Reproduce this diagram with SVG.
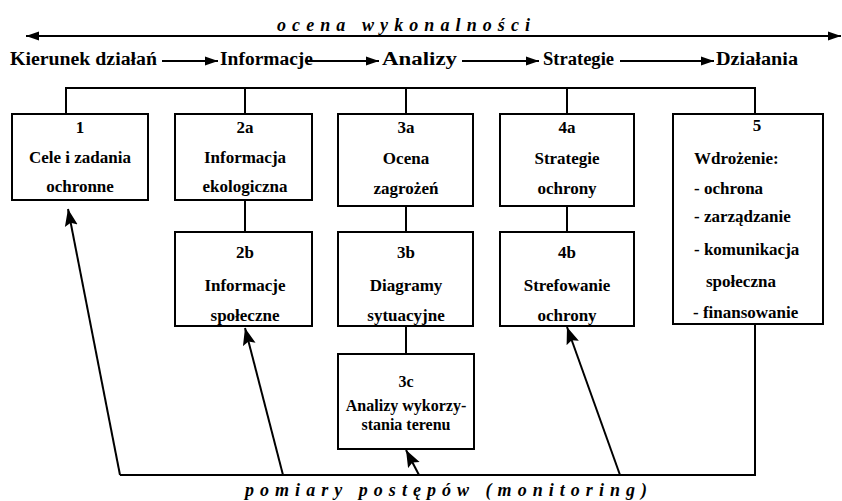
<svg xmlns="http://www.w3.org/2000/svg" width="842" height="501" viewBox="0 0 842 501" font-family="Liberation Serif, serif">
<defs>
<marker id="ah" markerUnits="userSpaceOnUse" markerWidth="14" markerHeight="10" refX="13" refY="5" orient="auto">
<path d="M0,0.5 L13,5 L0,9.5 z" fill="#000"/>
</marker>
<marker id="ahs" markerUnits="userSpaceOnUse" markerWidth="14" markerHeight="10" refX="0" refY="5" orient="auto">
<path d="M13,0.5 L0,5 L13,9.5 z" fill="#000"/>
</marker>
<marker id="ahb" markerUnits="userSpaceOnUse" markerWidth="18" markerHeight="14" refX="17" refY="7" orient="auto">
<path d="M0,0.5 L17,7 L0,13.5 L3,7 z" fill="#000"/>
</marker>
</defs>
<style>
text{font-family:'Liberation Serif',serif;fill:#000;font-weight:bold}
.hd{font-size:18px}
.it{font-size:18px;font-style:italic}
.bx{font-size:17px;text-anchor:middle}
.bl{font-size:17px}
.sm{font-size:16px;text-anchor:middle}
rect{fill:#fff;stroke:#000;stroke-width:2}
.ln{fill:none;stroke:#000;stroke-width:2}
</style>

<g id="header">
<text class="it" x="277" y="31" textLength="253">ocena wykonalności</text>
<text class="hd" x="10" y="65" textLength="147" lengthAdjust="spacingAndGlyphs">Kierunek działań</text>
<text class="hd" x="220" y="65" textLength="93" lengthAdjust="spacingAndGlyphs">Informacje</text>
<text class="hd" x="382" y="65" textLength="75" lengthAdjust="spacingAndGlyphs">Analizy</text>
<text class="hd" x="543" y="65" textLength="71" lengthAdjust="spacingAndGlyphs">Strategie</text>
<text class="hd" x="716" y="65" textLength="82" lengthAdjust="spacingAndGlyphs">Działania</text>
</g>

<g id="connectors">
<line class="ln" x1="26" y1="36" x2="841" y2="36" marker-start="url(#ahs)" marker-end="url(#ah)"/>
<line class="ln" x1="162" y1="61" x2="218" y2="61" marker-end="url(#ah)"/>
<line class="ln" x1="305" y1="61" x2="379" y2="61" marker-end="url(#ah)"/>
<line class="ln" x1="462" y1="61" x2="539" y2="61" marker-end="url(#ah)"/>
<line class="ln" x1="620" y1="61" x2="714" y2="61" marker-end="url(#ah)"/>
<polyline class="ln" points="66,114 66,88 755,88 755,114"/>
<line class="ln" x1="245" y1="88" x2="245" y2="114"/>
<line class="ln" x1="406" y1="88" x2="406" y2="114"/>
<line class="ln" x1="567" y1="88" x2="567" y2="114"/>
<line class="ln" x1="245" y1="200" x2="245" y2="232"/>
<line class="ln" x1="406" y1="206" x2="406" y2="232"/>
<line class="ln" x1="567" y1="206" x2="567" y2="232"/>
<line class="ln" x1="406" y1="326" x2="406" y2="354"/>
<polyline class="ln" points="120,475 755,475 755,324"/>
<line class="ln" x1="120" y1="475" x2="68" y2="209" marker-end="url(#ahb)"/>
<line class="ln" x1="283" y1="475" x2="245" y2="328" marker-end="url(#ahb)"/>
<line class="ln" x1="419" y1="475" x2="406" y2="450" marker-end="url(#ahb)"/>
<line class="ln" x1="620" y1="475" x2="567" y2="327" marker-end="url(#ahb)"/>
</g>

<g id="n1">
<rect x="12" y="114" width="136" height="86"/>
<text class="bx" x="80" y="133">1</text>
<text class="bx" x="80" y="163">Cele i zadania</text>
<text class="bx" x="80" y="192">ochronne</text>
</g>
<g id="n2a">
<rect x="175" y="114" width="137" height="86"/>
<text class="bx" x="245" y="133">2a</text>
<text class="bx" x="245" y="163">Informacja</text>
<text class="bx" x="245" y="192">ekologiczna</text>
</g>
<g id="n3a">
<rect x="338" y="114" width="135" height="92"/>
<text class="bx" x="406" y="133">3a</text>
<text class="bx" x="406" y="164">Ocena</text>
<text class="bx" x="406" y="194">zagrożeń</text>
</g>
<g id="n4a">
<rect x="500" y="114" width="134" height="92"/>
<text class="bx" x="567" y="133">4a</text>
<text class="bx" x="567" y="164">Strategie</text>
<text class="bx" x="567" y="194">ochrony</text>
</g>
<g id="n5">
<rect x="673" y="114" width="150" height="210"/>
<text class="bx" x="757" y="131">5</text>
<text class="bl" x="694" y="164">Wdrożenie:</text>
<text class="bl" x="694" y="194">- ochrona</text>
<text class="bl" x="694" y="222">- zarządzanie</text>
<text class="bl" x="694" y="255">- komunikacja</text>
<text class="bl" x="706" y="287">społeczna</text>
<text class="bl" x="693" y="318">- finansowanie</text>
</g>
<g id="n2b">
<rect x="175" y="232" width="137" height="94"/>
<text class="bx" x="245" y="258">2b</text>
<text class="bx" x="245" y="291">Informacje</text>
<text class="bx" x="245" y="321">społeczne</text>
</g>
<g id="n3b">
<rect x="338" y="232" width="135" height="94"/>
<text class="bx" x="406" y="258">3b</text>
<text class="bx" x="406" y="291">Diagramy</text>
<text class="bx" x="406" y="321">sytuacyjne</text>
</g>
<g id="n4b">
<rect x="500" y="232" width="134" height="94"/>
<text class="bx" x="567" y="258">4b</text>
<text class="bx" x="567" y="291">Strefowanie</text>
<text class="bx" x="567" y="321">ochrony</text>
</g>
<g id="n3c">
<rect x="338" y="354" width="136" height="95"/>
<text class="sm" x="406" y="387">3c</text>
<text class="sm" x="406" y="411">Analizy wykorzy-</text>
<text class="sm" x="406" y="430">stania terenu</text>
</g>

<g id="footer">
<text class="it" x="245" y="496" textLength="402">pomiary postępów (monitoring)</text>
</g>
</svg>
